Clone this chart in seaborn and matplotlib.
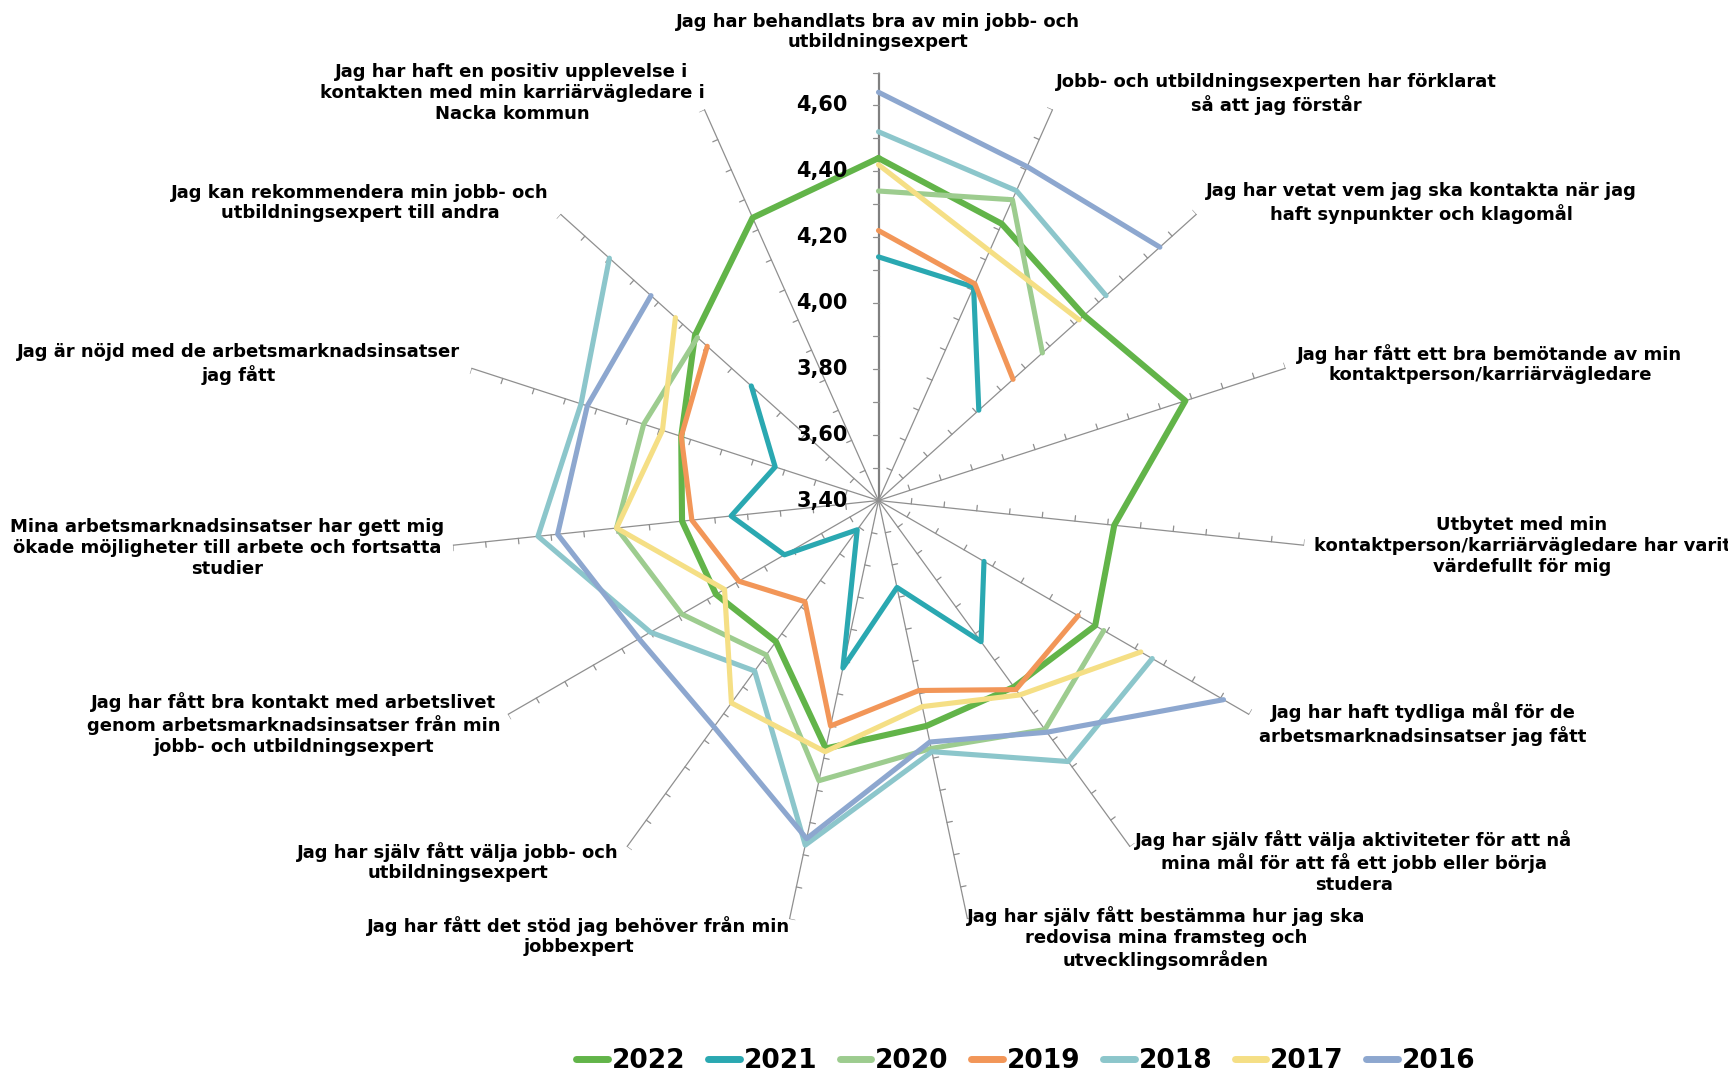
import numpy as np
import pandas as pd
import matplotlib.pyplot as plt
from matplotlib.lines import Line2D
import seaborn as sns

# Survey questions, clockwise from the top
categories = [
    'Jag har behandlats bra av min jobb- och\nutbildningsexpert',
    'Jobb- och utbildningsexperten har förklarat\nså att jag förstår',
    'Jag har vetat vem jag ska kontakta när jag\nhaft synpunkter och klagomål',
    'Jag har fått ett bra bemötande av min\nkontaktperson/karriärvägledare',
    'Utbytet med min\nkontaktperson/karriärvägledare har varit\nvärdefullt för mig',
    'Jag har haft tydliga mål för de\narbetsmarknadsinsatser jag fått',
    'Jag har själv fått välja aktiviteter för att nå\nmina mål för att få ett jobb eller börja\nstudera',
    'Jag har själv fått bestämma hur jag ska\nredovisa mina framsteg och\nutvecklingsområden',
    'Jag har fått det stöd jag behöver från min\njobbexpert',
    'Jag har själv fått välja jobb- och\nutbildningsexpert',
    'Jag har fått bra kontakt med arbetslivet\ngenom arbetsmarknadsinsatser från min\njobb- och utbildningsexpert',
    'Mina arbetsmarknadsinsatser har gett mig\nökade möjligheter till arbete och fortsatta\nstudier',
    'Jag är nöjd med de arbetsmarknadsinsatser\njag fått',
    'Jag kan rekommendera min jobb- och\nutbildningsexpert till andra',
    'Jag har haft en positiv upplevelse i\nkontakten med min karriärvägledare i\nNacka kommun',
]

nan = np.nan
years = ['2022', '2021', '2020', '2019', '2018', '2017', '2016']
v2022 = [4.44, 4.32, 4.24, 4.38, 4.12, 4.16, 4.10, 4.10, 4.17, 3.93, 3.97, 4.00, 4.03, 4.15, 4.34]
v2021 = [4.14, 4.11, 3.81, nan, nan, 3.77, 3.93, 3.67, 3.92, 3.51, 3.73, 3.85, 3.73, 3.92, nan]
v2020 = [4.34, 4.40, 4.07, nan, nan, 4.19, 4.26, 4.17, 4.27, 3.98, 4.09, 4.20, 4.15, 4.14, nan]
v2019 = [4.22, 4.12, 3.95, nan, nan, 4.10, 4.11, 3.99, 4.10, 3.78, 3.89, 3.97, 4.03, 4.10, nan]
v2018 = [4.52, 4.43, 4.33, nan, nan, 4.36, 4.38, 4.18, 4.47, 4.04, 4.20, 4.44, 4.35, 4.50, nan]
v2017 = [4.42, 4.23, 4.22, nan, nan, 4.32, 4.13, 4.04, 4.18, 4.16, 3.94, 4.20, 4.09, 4.23, nan]
v2016 = [4.64, 4.51, 4.55, nan, nan, 4.61, 4.27, 4.15, 4.45, 4.25, 4.24, 4.38, 4.33, 4.33, nan]
series = dict(zip(years, [v2022, v2021, v2020, v2019, v2018, v2017, v2016]))

tick_values = [3.40, 3.60, 3.80, 4.00, 4.20, 4.40, 4.60]
r_min, r_max = 3.40, 4.70

colors = {
    '2022': '#62b449', '2021': '#2aa8b1', '2020': '#9dcc8f', '2019': '#f29658',
    '2018': '#8cc6cb', '2017': '#f5df85', '2016': '#8da7cf',
}

# label centres in pixels (x, y from top)
label_pos = [(878, 32), (1276, 94), (1421, 203), (1490, 364), (1522, 546),
             (1423, 724), (1354, 862), (1166, 938), (579, 936), (458, 862),
             (294, 724), (227, 548), (239, 364), (360, 203), (512, 93)]

sns.set_style('white')
plt.rcParams['font.family'] = ['DejaVu Sans']

W, H = 1728, 1074
fig = plt.figure(figsize=(W / 100, H / 100), dpi=100)
radius_px = 428
cx, cy = 878.5, 500.5
ax = fig.add_axes([(cx - radius_px) / W, 1 - (cy + radius_px) / H,
                   2 * radius_px / W, 2 * radius_px / H], projection='polar')
ax.set_theta_zero_location('N')
ax.set_theta_direction(-1)

n = len(categories)
theta = np.arange(n) * 2 * np.pi / n

# long-form table, gaps split a series into separate segments
rows = []
for year, vals in series.items():
    vals = list(vals)
    th = list(theta)
    if not np.isnan(vals).any():
        vals = vals + [vals[0]]
        th = th + [2 * np.pi]
    seg = 0
    for t, v in zip(th, vals):
        if np.isnan(v):
            seg += 1
            continue
        rows.append(dict(year=year, theta=t, value=v, segment=seg))
df = pd.DataFrame(rows)

# spokes and tick marks
ppu = radius_px / (r_max - r_min)
tick_len = 5.5
minor = np.round(np.arange(3.5, 4.701, 0.1), 2)
for k, t in enumerate(theta):
    ax.plot([t, t], [r_min, r_max], color='#808080' if k == 0 else '#8f8f8f',
            lw=1.6 if k == 0 else 0.9, zorder=1)
    for tv in minor:
        R = (tv - r_min) * ppu
        r2 = r_min + np.hypot(R, tick_len) / ppu
        t2 = t - np.arctan2(tick_len, R)
        ax.plot([t, t2], [tv, r2], color='#8f8f8f', lw=0.9, zorder=1)

for year in years:
    sns.lineplot(data=df[df['year'] == year], x='theta', y='value', units='segment',
                 estimator=None, sort=False, color=colors[year],
                 linewidth=4.4 if year == '2022' else 3.7, legend=False, ax=ax,
                 solid_capstyle='round', solid_joinstyle='round', zorder=3)

ax.set_ylim(r_min, r_max)
ax.set_xticks([])
ax.set_yticks([])
ax.grid(False)
ax.spines['polar'].set_visible(False)
ax.set_xlabel('')
ax.set_ylabel('')

for v in tick_values:
    ax.annotate(f'{v:.2f}'.replace('.', ','), xy=(0, v), xytext=(-31, 0),
                textcoords='offset pixels', ha='right', va='center',
                fontsize=15, fontweight='bold', color='black')

for text, (x, y) in zip(categories, label_pos):
    fig.text(x / W, 1 - y / H, text, ha='center', va='center', fontsize=13,
             fontweight='bold', linespacing=1.2, color='black')

handles = [Line2D([0], [0], color=colors[y], lw=5, solid_capstyle='round') for y in years]
fig.legend(handles, years, loc='center', bbox_to_anchor=(1026 / W, 1 - 1061 / H),
           ncol=7, frameon=False, prop={'weight': 'bold', 'size': 19},
           labelcolor='black', handlelength=1.2, handletextpad=0.15,
           columnspacing=0.85, borderpad=0, borderaxespad=0)

fig.savefig('out.png', dpi=100)
